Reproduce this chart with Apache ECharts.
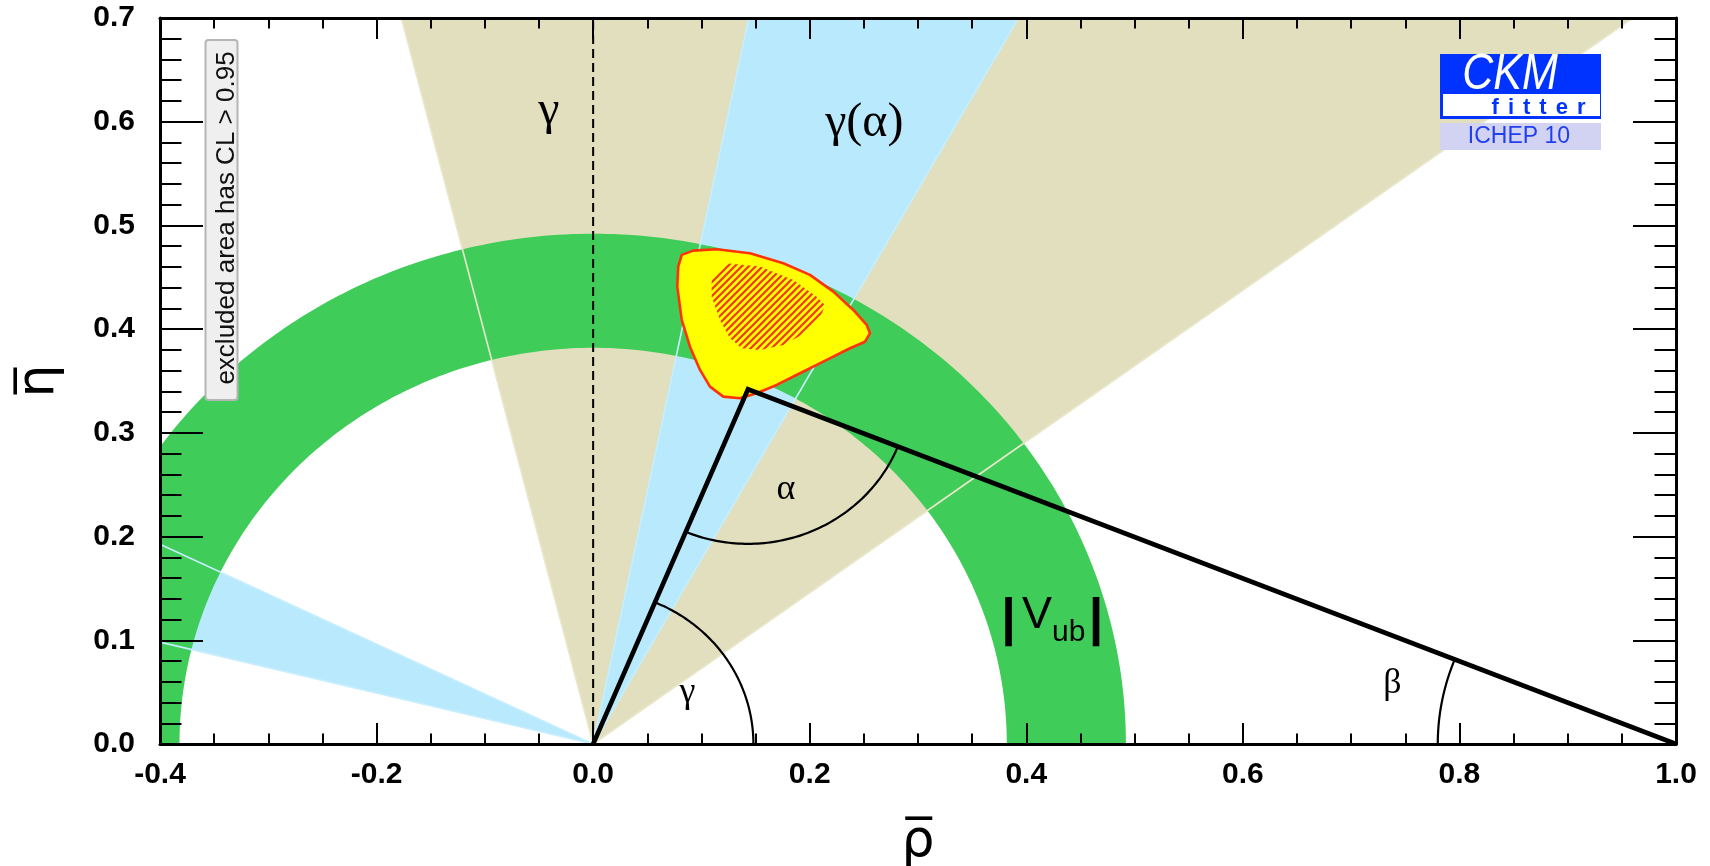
<!DOCTYPE html>
<html>
<head>
<meta charset="utf-8">
<script src="https://cdn.jsdelivr.net/npm/echarts@6/dist/echarts.min.js"></script>
<style>
  html, body { margin: 0; padding: 0; background: #fff; }
  #chart { width: 1710px; height: 866px; }
</style>
</head>
<body>
<div id="chart"></div>
<script>
// ---- Axis ranges and tick steps ----
const rhoRange = [-0.4, 1.0];
const etaRange = [0.0, 0.7];
const rhoStep = 0.2;
const etaStep = 0.1;

// ---- Unitarity triangle: apex (rho-bar, eta-bar) and fixed corners ----
const apex = [0.143, 0.342];
const origin = [0, 0];
const corner = [1, 0];

// ---- |Vub| ring around the origin: inner and outer radius ----
const vubRadii = [0.382, 0.492];

// ---- gamma (direct) wedge, angles in degrees from the rho-bar axis ----
const gammaWedge = [36.1, 104.2];
// ---- gamma(alpha) wedges, two solutions ----
const gammaAlphaWedges = [[60.7, 78.4], [154.3, 166.2]];

// ---- Angle marker radii: gamma (origin), alpha (apex), beta (1,0) ----
const angleArcRadii = [0.148, 0.149, 0.22];

// ---- Global fit: 95% CL contour (rho-bar, eta-bar) ----
const contour95 = [
  [0.0818, 0.4716], [0.0925, 0.4757], [0.1141, 0.4770], [0.1448, 0.4732],
  [0.1756, 0.4635], [0.2002, 0.4523], [0.2218, 0.4362], [0.2402, 0.4185],
  [0.2526, 0.4041], [0.2556, 0.3960], [0.2510, 0.3879], [0.2372, 0.3816],
  [0.2157, 0.3703], [0.1910, 0.3575], [0.1695, 0.3462], [0.1510, 0.3382],
  [0.1356, 0.3334], [0.1202, 0.3349], [0.1079, 0.3446], [0.0987, 0.3607],
  [0.0894, 0.3831], [0.0818, 0.4089], [0.0777, 0.4410], [0.0786, 0.4603]
];
// ---- Global fit: 68% CL contour (hatched) ----
const contour68 = [
  [0.1095, 0.4491], [0.1233, 0.4635], [0.1541, 0.4603], [0.1848, 0.4474],
  [0.2064, 0.4313], [0.2141, 0.4233], [0.2095, 0.4105], [0.1956, 0.3960],
  [0.1756, 0.3848], [0.1541, 0.3799], [0.1372, 0.3816], [0.1264, 0.3912],
  [0.1171, 0.4089], [0.1095, 0.4313]
];

// ---- Text annotations placed in (rho-bar, eta-bar) ----
const angleLabels = ['γ', 'γ(α)', 'α', 'γ', 'β'];
const angleLabelPos = [[-0.041, 0.610], [0.2504, 0.598], [0.178, 0.245], [0.087, 0.050], [0.738, 0.0585]];
const vubLabelPos = [0.4237, 0.1186];

// ---- Colours ----
const C = {
  tan: '#e1dfbd', tanEdge: '#e9e7cb',
  blue: '#b9e9fd', blueEdge: '#c6eefd',
  green: '#3fcc59', yellow: '#ffff00',
  red: '#ff3300', hatch: '#f23a1e'
};

const deg = Math.PI / 180;
const BOX = [rhoRange[0], rhoRange[1], etaRange[0], etaRange[1]];

// Sutherland-Hodgman clip of a polygon to the plotted range
function cut(a, c, k, b) {
  const t = (b - a[k]) / (c[k] - a[k]);
  return [a[0] + t * (c[0] - a[0]), a[1] + t * (c[1] - a[1])];
}
function clipPolygon(pts) {
  const planes = [[0, BOX[0], 1], [0, BOX[1], -1], [1, BOX[2], 1], [1, BOX[3], -1]];
  let out = pts;
  for (const [k, b, s] of planes) {
    const inp = out; out = [];
    for (let i = 0; i < inp.length; i++) {
      const cur = inp[i], prev = inp[(i + inp.length - 1) % inp.length];
      const cin = s * (cur[k] - b) >= -1e-12, pin = s * (prev[k] - b) >= -1e-12;
      if (cin) { if (!pin) out.push(cut(prev, cur, k, b)); out.push(cur); }
      else if (pin) out.push(cut(prev, cur, k, b));
    }
  }
  return out;
}
// End point of a ray from the origin where it leaves the plotted range
function rayEnd(a) {
  const c = Math.cos(a * deg), s = Math.sin(a * deg);
  let t = Infinity;
  if (c > 1e-12) t = Math.min(t, BOX[1] / c);
  if (c < -1e-12) t = Math.min(t, BOX[0] / c);
  if (s > 1e-12) t = Math.min(t, BOX[3] / s);
  return [t * c, t * s];
}
function wedge(a0, a1) {
  const R = 4, m = (a0 + a1) / 2;
  return clipPolygon([[0, 0],
    [R * Math.cos(a0 * deg), R * Math.sin(a0 * deg)],
    [R * Math.cos(m * deg), R * Math.sin(m * deg)],
    [R * Math.cos(a1 * deg), R * Math.sin(a1 * deg)]]);
}
function arc(center, r, a0, a1, n) {
  const pts = [];
  for (let i = 0; i <= n; i++) {
    const a = (a0 + (a1 - a0) * i / n) * deg;
    pts.push([center[0] + r * Math.cos(a), center[1] + r * Math.sin(a)]);
  }
  return pts;
}
function ring(r0, r1) {
  const outer = arc(origin, r1, 0, 180, 240);
  const inner = arc(origin, r0, 180, 0, 240);
  return clipPolygon(outer.concat(inner));
}
const angOf = (from, to) => Math.atan2(to[1] - from[1], to[0] - from[0]) / deg;

// Diagonal red hatch pattern for the 68% CL region
const hatch = document.createElement('canvas');
hatch.width = hatch.height = 7;
(function () {
  const g = hatch.getContext('2d'), s = 7;
  g.strokeStyle = C.hatch; g.lineWidth = 2.2; g.lineCap = 'square';
  g.beginPath();
  g.moveTo(0, s); g.lineTo(s, 0);
  g.moveTo(-1, 1); g.lineTo(1, -1);
  g.moveTo(s - 1, s + 1); g.lineTo(s + 1, s - 1);
  g.stroke();
})();

function layer(name, build) {
  return {
    type: 'custom', name, silent: true, animation: false,
    coordinateSystem: 'cartesian2d', data: [[0, 0]],
    renderItem: (params, api) => {
      const px = p => api.coord(p);
      return { type: 'group', children: build(px) };
    }
  };
}
const poly = (px, pts, style) => ({ type: 'polygon', shape: { points: pts.map(px) }, style });
const line = (px, pts, style) => ({ type: 'polyline', shape: { points: pts.map(px) }, style: Object.assign({ fill: 'none' }, style) });
const txt = (x, y, text, font, extra) => ({
  type: 'text', x, y,
  style: Object.assign({ text, font, fill: '#000', align: 'center', verticalAlign: 'middle' }, extra || {})
});

const wedgeAngles = [gammaWedge[0], gammaWedge[1]];
const alphaAngles = gammaAlphaWedges.flat();

const series = [
  layer('gamma', px => [poly(px, wedge(gammaWedge[0], gammaWedge[1]), { fill: C.tan })]),
  layer('gamma(alpha)', px => gammaAlphaWedges.map(w => poly(px, wedge(w[0], w[1]), { fill: C.blue }))),
  layer('|Vub|', px => [poly(px, ring(vubRadii[0], vubRadii[1]), { fill: C.green })]),
  layer('edges', px =>
    wedgeAngles.map(a => line(px, [origin, rayEnd(a)], { stroke: C.tanEdge, lineWidth: 1.6 }))
      .concat(alphaAngles.map(a => line(px, [origin, rayEnd(a)], { stroke: C.blueEdge, lineWidth: 1.6 })))),
  layer('axis rho=0', px => [line(px, [[0, etaRange[0]], [0, etaRange[1]]], { stroke: '#000', lineWidth: 2, lineDash: [9, 5] })]),
  layer('fit 95', px => [poly(px, contour95, { fill: C.yellow, stroke: C.red, lineWidth: 2.6, lineJoin: 'round' })]),
  layer('fit 68', px => [poly(px, contour68, { fill: { image: hatch, repeat: 'repeat' } })]),
  layer('triangle', px => [line(px, [origin, apex, corner], { stroke: '#000', lineWidth: 4.6, lineJoin: 'miter' })]),
  layer('angles', px => {
    const g0 = angOf(origin, apex);
    const a0 = angOf(apex, origin), a1 = angOf(apex, corner);
    const b1 = angOf(corner, apex);
    return [
      line(px, arc(origin, angleArcRadii[0], 0, g0, 80), { stroke: '#000', lineWidth: 2.2 }),
      line(px, arc(apex, angleArcRadii[1], a0, a1, 80), { stroke: '#000', lineWidth: 2.2 }),
      line(px, arc(corner, angleArcRadii[2], 180, b1, 60), { stroke: '#000', lineWidth: 2.2 })
    ];
  }),
  layer('labels', px => {
    const out = angleLabels.map((t, i) => {
      const p = px(angleLabelPos[i]);
      const big = i < 2;
      return txt(p[0], p[1], t, (big ? 48 : 36) + 'px "Liberation Serif"');
    });
    const v = px(vubLabelPos);
    out.push(txt(v[0] - 43.5, v[1], '|', 'bold 52px "Liberation Sans"'));
    out.push(txt(v[0] - 15, v[1] - 5, 'V', '45px "Liberation Sans"'));
    out.push(txt(v[0], v[1] + 12, 'ub', '30px "Liberation Sans"', { align: 'left' }));
    out.push(txt(v[0] + 44, v[1], '|', 'bold 52px "Liberation Sans"'));
    return out;
  })
];

const fmt = v => (Math.abs(v) < 1e-9 ? 0 : v).toFixed(1);
const tickLine = { color: '#000', width: 2 };
const axisLine = { show: true, onZero: false, lineStyle: { color: '#000', width: 3 } };
const labelFont = { fontFamily: 'Liberation Sans', fontWeight: 'bold', fontSize: 30, color: '#000' };

function xAxis(pos, withLabels) {
  return {
    type: 'value', position: pos, min: rhoRange[0], max: rhoRange[1], interval: rhoStep, z: 10,
    axisLine,
    axisTick: { show: true, inside: true, length: 21, lineStyle: tickLine },
    minorTick: { show: true, splitNumber: 4, length: 10.5, lineStyle: tickLine },
    splitLine: { show: false }, minorSplitLine: { show: false },
    axisLabel: withLabels ? Object.assign({ show: true, margin: 16, formatter: fmt, showMinLabel: true, showMaxLabel: true }, labelFont) : { show: false },
    name: withLabels ? 'ρ\u0305' : '', nameLocation: 'middle', nameGap: 72,
    nameTextStyle: { fontFamily: 'DejaVu Sans', fontSize: 52, color: '#000' }
  };
}
function yAxis(pos, withLabels) {
  return {
    type: 'value', position: pos, min: etaRange[0], max: etaRange[1], interval: etaStep, z: 10,
    axisLine,
    axisTick: { show: true, inside: true, length: 43, lineStyle: tickLine },
    minorTick: { show: true, splitNumber: 5, length: 21.5, lineStyle: tickLine },
    splitLine: { show: false }, minorSplitLine: { show: false },
    axisLabel: withLabels ? Object.assign({ show: true, margin: 25, formatter: fmt, showMinLabel: true, showMaxLabel: true }, labelFont) : { show: false },
    name: withLabels ? 'η\u0305' : '', nameLocation: 'middle', nameGap: 95, nameRotate: 90,
    nameTextStyle: { fontFamily: 'DejaVu Sans', fontSize: 52, color: '#000' }
  };
}

const chart = echarts.init(document.getElementById('chart'), null, { renderer: 'canvas' });
chart.setOption({
  animation: false,
  backgroundColor: '#fff',
  grid: { left: 160, right: 34, top: 18, bottom: 122, containLabel: false, outerBoundsMode: 'none' },
  xAxis: [xAxis('bottom', true), xAxis('top', false)],
  yAxis: [yAxis('left', true), yAxis('right', false)],
  series,
  graphic: {
    elements: [
      // confidence-level note
      { type: 'rect', z: 100, shape: { x: 205.5, y: 40, width: 32, height: 360, r: 3 },
        style: { fill: '#efefef', stroke: '#b5b5b5', lineWidth: 2 } },
      { type: 'text', z: 101, x: 226.5, y: 218, rotation: Math.PI / 2,
        style: { text: 'excluded area has CL > 0.95', font: '26px "Liberation Sans"', fill: '#111', align: 'center', verticalAlign: 'middle' } },
      // CKMfitter badge
      { type: 'rect', z: 100, shape: { x: 1440, y: 54, width: 161, height: 65 }, style: { fill: '#0033ff' } },
      { type: 'text', z: 101, x: 1510, y: 75, scaleX: 0.86,
        style: { text: 'CKM', font: 'italic 50px "Liberation Sans"', fill: '#fff', align: 'center', verticalAlign: 'middle' } },
      { type: 'rect', z: 101, shape: { x: 1443, y: 94, width: 157, height: 22 }, style: { fill: '#fff' } },
      { type: 'text', z: 102, x: 1538.5, y: 107.5,
        style: { text: '{l|f}{l|i}{l|t}{l|t}{l|e}{l|r}', align: 'center', verticalAlign: 'middle',
          rich: { l: { font: 'bold 22px "Liberation Sans"', fill: '#0033ff', padding: [0, 4.5, 0, 4.5] } } } },
      { type: 'rect', z: 100, shape: { x: 1440, y: 123, width: 161, height: 27 }, style: { fill: '#d2d2f2' } },
      { type: 'text', z: 101, x: 1519, y: 137,
        style: { text: 'ICHEP 10', font: '23px "Liberation Sans"', fill: '#1f3ff0', align: 'center', verticalAlign: 'middle' } }
    ]
  }
});
</script>
</body>
</html>
